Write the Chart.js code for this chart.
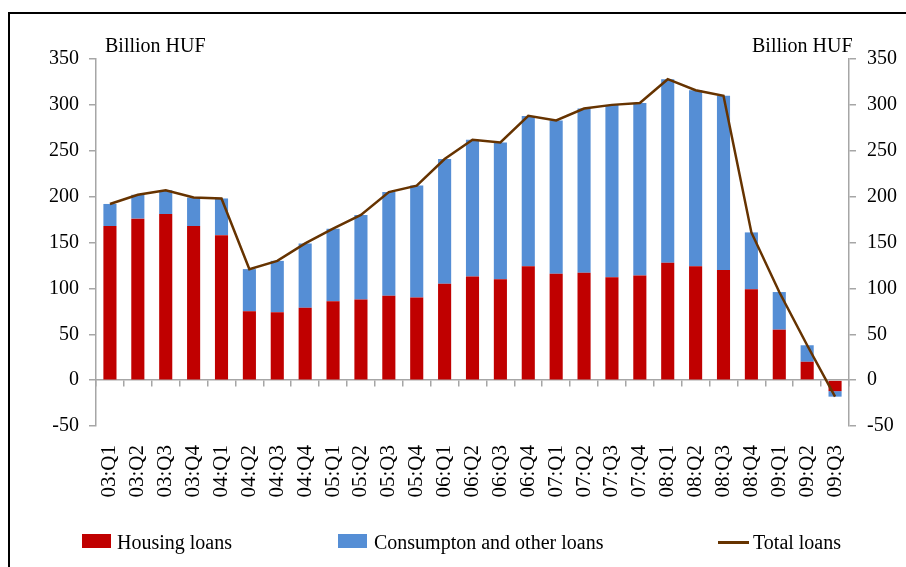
<!DOCTYPE html>
<html>
<head>
<meta charset="utf-8">
<title>Household loans</title>
<script src="https://cdn.jsdelivr.net/npm/chart.js@4"></script>
<style>
    body { margin: 0; background: #fff; }
    #wrap { position: relative; width: 906px; height: 567px; overflow: hidden; font-family: "Liberation Serif", "DejaVu Serif", serif; }
    #frame { position: absolute; left: 8px; top: 12px; width: 1000px; height: 1000px; border-left: 2.5px solid #000; border-top: 2.5px solid #000; }
    .unit { position: absolute; top: 34px; font-size: 20px; color: #000; }
    .leg { position: absolute; top: 531px; font-size: 20px; color: #000; line-height: 22px; }
    .swatch { position: absolute; }
</style>
</head>
<body>
<div id="wrap">
    <div id="frame"></div>
    <canvas id="myChart" width="906" height="567"></canvas>
    <span class="unit" style="left:105px">Billion HUF</span>
    <span class="unit" style="left:752px">Billion HUF</span>
    <div id="legend"></div>
</div>
<script>
const quarters = ['03:Q1', '03:Q2', '03:Q3', '03:Q4', '04:Q1', '04:Q2', '04:Q3', '04:Q4',
    '05:Q1', '05:Q2', '05:Q3', '05:Q4', '06:Q1', '06:Q2', '06:Q3', '06:Q4',
    '07:Q1', '07:Q2', '07:Q3', '07:Q4', '08:Q1', '08:Q2', '08:Q3', '08:Q4',
    '09:Q1', '09:Q2', '09:Q3'];

// billion HUF per quarter
const housing = [168, 176, 181, 168, 158, 75, 74, 79, 86, 88, 92, 90, 105, 113, 110, 124,
    116, 117, 112, 114, 128, 124, 120, 99, 55, 20, -12];
const consumption = [24, 26, 26, 31, 40, 46, 56, 70, 79, 92, 113, 122, 136, 149, 149, 164,
    167, 179, 188, 188, 200, 192, 190, 62, 41, 18, -6];
const total = [192, 202, 207, 199, 198, 121, 130, 149, 165, 180, 205, 212, 241, 262, 259, 288,
    283, 296, 300, 302, 328, 316, 310, 161, 96, 38, -18];

const axisTicks = [-50, 0, 50, 100, 150, 200, 250, 300, 350];

const RED = '#C00000';
const BLUE = '#558ED5';
const BROWN = '#663300';
const GREY = '#a6a6a6';
const FONT = { family: '"Liberation Serif", "DejaVu Serif", serif', size: 20 };

function valueAxis(position, width, padding) {
    return {
        position: position,
        stacked: position === 'left',
        min: axisTicks[0],
        max: axisTicks[axisTicks.length - 1],
        afterBuildTicks: (scale) => { scale.ticks = axisTicks.map(v => ({ value: v })); },
        afterFit: (scale) => { scale.width = width; },
        grid: { drawOnChartArea: false, color: GREY, lineWidth: 1.5, tickLength: 7 },
        border: { color: GREY, width: 1.5 },
        ticks: { color: '#000', font: FONT, padding: padding }
    };
}

const ctx = document.getElementById('myChart').getContext('2d');
const myChart = new Chart(ctx, {
    type: 'bar',
    data: {
        labels: quarters,
        datasets: [
            { label: 'Total loans', type: 'line', data: total, yAxisID: 'y2', borderColor: BROWN,
              backgroundColor: BROWN, borderWidth: 2.5, pointRadius: 0, tension: 0, order: 0 },
            { label: 'Housing loans', data: housing, backgroundColor: RED, yAxisID: 'y', order: 1 },
            { label: 'Consumpton and other loans', data: consumption, backgroundColor: BLUE, yAxisID: 'y', order: 1 }
        ]
    },
    options: {
        responsive: false,
        animation: false,
        devicePixelRatio: 1,
        layout: { padding: { top: 59, left: 0, right: 0, bottom: 0 } },
        datasets: { bar: { categoryPercentage: 1, barPercentage: 0.47 } },
        plugins: { legend: { display: false }, tooltip: { enabled: false } },
        scales: {
            x: {
                stacked: true,
                offset: true,
                afterFit: (scale) => { scale.height = 141; },
                grid: { display: false, drawTicks: false },
                border: { display: false },
                ticks: { color: '#000', font: { family: FONT.family, size: 21 }, maxRotation: 90, minRotation: 90, padding: 19, autoSkip: false }
            },
            // category axis crossing at zero, only for the line and its tick marks
            x0: {
                type: 'category',
                position: { y: 0 },
                offset: true,
                grid: { drawOnChartArea: false, offset: true, color: GREY, lineWidth: 1.5, tickLength: 6 },
                border: { color: GREY, width: 1.5 },
                ticks: { display: false }
            },
            y: valueAxis('left', 96, 10),
            y2: valueAxis('right', 57, 11)
        }
    }
});

// legend built from the datasets
const legendPos = {
    'Housing loans': { box: 82, text: 117 },
    'Consumpton and other loans': { box: 338, text: 374 },
    'Total loans': { box: 718, text: 753 }
};
const legend = document.getElementById('legend');
myChart.data.datasets.forEach(ds => {
    const pos = legendPos[ds.label];
    const sw = document.createElement('div');
    sw.className = 'swatch';
    if (ds.type === 'line') {
        sw.style.cssText = `left:${pos.box}px;top:541px;width:31px;height:3px;background:${ds.borderColor}`;
    } else {
        sw.style.cssText = `left:${pos.box}px;top:534px;width:29px;height:14px;background:${ds.backgroundColor}`;
    }
    const txt = document.createElement('span');
    txt.className = 'leg';
    txt.style.left = pos.text + 'px';
    txt.textContent = ds.label;
    legend.appendChild(sw);
    legend.appendChild(txt);
});
</script>
</body>
</html>
